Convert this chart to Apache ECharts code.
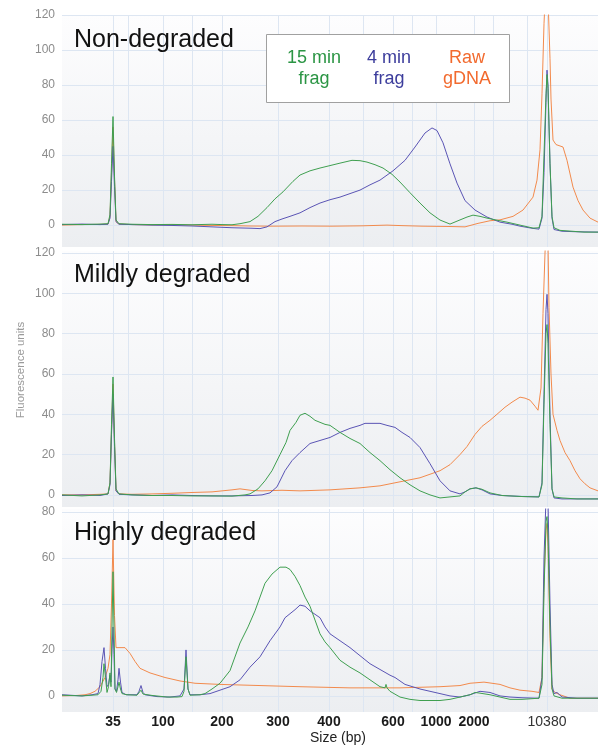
<!DOCTYPE html>
<html><head><meta charset="utf-8">
<script src="https://cdn.jsdelivr.net/npm/echarts@6/dist/echarts.min.js"></script>
<style>html,body{margin:0;padding:0;background:#fff}#c{width:598px;height:748px}</style>
</head><body><div id="c"></div>
<script>
// Ladder (size standard) positions on the migration axis
const ladderSizes = [35, 50, 100, 150, 200, 300, 400, 500, 600, 700, 1000, 2000, 3000, 7000, 10380];
const ladderPos   = [51, 66, 101, 130, 160, 216, 267, 301, 331, 350, 374, 412, 431, 465, 485];
const labeledSizes = [35, 100, 200, 300, 400, 600, 1000, 2000, 10380];
const panelTitles = ['Non-degraded', 'Mildly degraded', 'Highly degraded'];
const legendLines = [['15 min', 'frag'], ['4 min', 'frag'], ['Raw', 'gDNA']];
const seriesNames = ['15 min frag', '4 min frag', 'Raw gDNA'];
const yTicks12 = [0, 20, 40, 60, 80, 100, 120];
const yTicks8 = [0, 20, 40, 60, 80];

// Panel 1: Non-degraded  [migration position, fluorescence]
const ndGreen = [[0,0.5],[20,0.3],[38,0.6],[46,0.8],[48,6],[49.5,35],[51,62],[52.5,28],[54,3],[57,0.8],[70,0.5],[90,0.3],[110,0.4],[130,0.2],[150,0.5],[160,0.3],[170,0.2],[178,0.8],[188,2],[196,5],[205,10],[213,15],[221,19],[231,25],[238,28.6],[248,31],[258,32.6],[268,34],[278,35.4],[290,37],[298,36.8],[305,36],[313,34.5],[321,32.6],[330,29],[338,24.6],[348,18.5],[358,12.6],[368,7],[378,2.9],[388,0.6],[396,2.5],[405,4.6],[411,5.7],[418,5],[425,4],[435,2.8],[445,1.7],[458,0],[471,-1.7],[477,-1.5],[480,5],[482,40],[484,75],[485,86],[486,78],[488,35],[490,5],[492,-1.5],[498,-3],[510,-3.5],[522,-4],[536,-4]];
const ndBlue = [[0,0.3],[20,0.6],[38,0.3],[46,0.5],[48,4],[49.5,25],[51,45],[52.5,22],[54,2],[57,0.5],[70,0.3],[90,0],[110,-0.2],[130,-0.5],[150,-1],[170,-1.5],[190,-1.8],[198,-2],[205,-1],[213,2],[220,3.5],[228,5],[238,7],[248,10],[258,12.6],[268,14.5],[278,16],[288,18],[298,20],[308,23],[318,25.7],[331,31],[343,37],[353,44.6],[363,52.6],[370,55.5],[375,54],[381,47],[388,35],[395,24],[403,14],[413,8.6],[425,4.6],[438,1.7],[450,0.5],[458,-0.6],[470,-1.8],[477,-2.3],[480,4],[482,30],[484,70],[485,88.5],[486,80],[488,35],[490,4],[492,-2.5],[500,-3.5],[515,-3.8],[536,-4]];
const ndOrange = [[0,0],[20,0.3],[38,0.4],[46,0.6],[48,5],[49.5,30],[51,56],[52.5,26],[54,2],[57,0.6],[70,0.3],[90,0.1],[110,0.2],[130,0],[150,-0.2],[170,-0.3],[188,-0.5],[210,-0.6],[240,-0.5],[270,-0.6],[300,-0.4],[325,0],[340,-0.3],[360,-0.6],[388,-0.8],[403,-1],[416,1],[428,2.5],[438,3],[451,5],[461,8.6],[471,16],[475,25.7],[478,43],[480,75],[482,115],[484,140],[486,130],[488,95],[489,72],[491,48.6],[494,46],[501,44.6],[505,37],[511,21.7],[516,14],[521,8.6],[528,4],[536,1.7]];

// Panel 2: Mildly degraded
const mdGreen = [[0,0],[20,-0.5],[38,0],[46,0.5],[48,6],[49.5,35],[51,58.5],[52.5,28],[54,3],[57,0.5],[70,0],[90,-0.3],[110,-0.3],[130,-0.5],[150,-0.5],[170,-0.6],[183,0],[188,0.5],[196,3],[203,7],[210,12],[218,20],[224,26],[228,32],[234,36],[238,39.5],[243,40.5],[248,39],[253,37],[258,36],[263,35],[268,34.5],[278,31],[288,28],[298,25.5],[308,21],[318,17],[328,12.5],[338,8.5],[348,5],[358,2],[368,0],[378,-1.5],[388,-1],[398,-0.5],[403,1.5],[408,3],[414,3.5],[420,2.8],[428,1],[440,-0.3],[448,-0.5],[460,-0.8],[477,-1],[480,5],[482,45],[484,80],[485,84.5],[486,75],[488,35],[490,3],[492,-1],[500,-1.5],[515,-2],[536,-2]];
const mdBlue = [[0,-0.3],[20,0],[38,-0.3],[46,0.5],[48,5],[49.5,30],[51,50],[52.5,24],[54,2],[57,0.3],[70,0],[90,-0.3],[110,0],[130,-0.3],[150,-0.5],[170,-0.5],[190,-0.3],[200,0],[208,1],[215,4],[223,12],[230,17],[238,21],[248,25.5],[258,27],[268,28.5],[278,31],[288,33],[298,34.5],[303,35.5],[313,35.5],[318,35.5],[325,34.5],[333,33.5],[340,31],[348,28.5],[358,23.5],[368,15.5],[378,7],[388,2],[398,0.5],[403,1.5],[408,3],[414,3.5],[420,2.5],[428,0.5],[440,-0.3],[448,-0.5],[460,-0.8],[477,-1],[480,6],[482,50],[484,92],[485,99.5],[486,90],[488,40],[490,3],[492,-1.5],[500,-2],[515,-2],[536,-2]];
const mdOrange = [[0,0],[20,0],[38,0.3],[46,0.5],[48,6],[49.5,32],[51,55],[52.5,26],[54,2],[57,0.5],[70,0.3],[90,0.5],[110,0.8],[130,1.2],[150,1.5],[170,2.5],[178,3],[190,2.2],[200,2],[220,2.3],[238,2],[268,2.5],[298,3.5],[318,4.5],[328,5.5],[343,7],[358,8.5],[378,12],[388,15],[398,20],[405,24],[413,30],[420,34],[428,37],[435,40],[443,43.5],[450,46],[458,48.5],[463,48],[468,47],[473,44],[476,42],[479,53],[481,90],[483,120],[484,130],[486,125],[487,93],[489,60],[491,40],[495,32],[498,27],[503,21],[508,17],[513,12],[518,8],[523,5.5],[528,3.5],[536,2]];

// Panel 3: Highly degraded
const hdGreen = [[0,0.3],[20,0],[30,0.3],[36,0.5],[39,2],[41,8],[42,14],[43.5,8],[45,1.5],[46.5,4],[48,10],[49,4],[50,30],[51,54],[52,30],[53,3],[54.5,1.5],[56,4],[57,6],[58.5,3],[60,1],[65,0.5],[75,0.3],[77,1],[79,2.5],[81,0.8],[90,0.2],[105,-0.5],[115,-0.5],[120,-0.3],[122,2],[124,17],[126,3],[128,0.3],[138,0.5],[143,1],[150,3],[158,5.5],[168,11],[178,23],[186,30],[193,37],[198,43],[203,49],[210,53],[218,56],[224,56],[228,55],[233,52],[238,48],[243,43],[248,39],[253,33],[258,27],[263,23.5],[268,21],[278,15.5],[288,12.5],[298,10],[308,7],[318,4],[323,3.5],[324,5],[325,3.5],[328,2],[338,-0.5],[348,-1.5],[358,-2],[378,-2],[388,-1.5],[398,-0.5],[408,0.5],[413,1.5],[418,1.2],[428,0.5],[438,-0.5],[448,-1.5],[460,-1.5],[477,-1],[480,5],[482,45],[484,76],[485,78],[486,70],[488,30],[490,3],[492,0],[500,-1],[515,-1],[536,-1]];
const hdBlue = [[0,0.5],[20,0],[30,0.5],[36,1],[38,5],[40,15],[42,21],[43.5,12],[45,4],[46.5,5],[48,9],[49,6],[50,20],[51,30],[52,18],[53,3],[54.5,2],[56,7],[57,12],[58.5,6],[60,1.5],[64,0.5],[75,0.5],[77,2],[79,4.5],[81,1.5],[83,0.5],[95,-0.3],[108,-0.5],[118,0],[122,3],[124,20],[126,3],[128,0.5],[138,0.5],[148,1],[158,2.5],[168,4],[178,7],[188,12.5],[198,17],[208,24],[218,30],[223,34],[233,37.5],[238,39.5],[243,39],[248,37],[258,34],[263,30],[268,27],[278,24],[288,21],[298,17.5],[308,14],[318,11.5],[328,9],[333,8],[343,5],[358,3],[368,2],[378,1],[388,0],[398,-0.5],[408,0.5],[418,2],[428,1.5],[438,0],[448,-0.5],[460,-0.8],[477,-1],[480,8],[482,60],[484,86],[485,88],[486,85],[488,40],[490,5],[492,1],[495,1.5],[500,-0.5],[515,-1],[536,-1]];
const hdOrange = [[0,0],[15,0.2],[23,0.5],[28,1],[33,2],[38,4],[43,8],[46,12],[48,18],[49.5,40],[51,68],[52.5,35],[54,21],[58,21],[63,21],[68,18.5],[73,15],[78,12],[88,10],[103,8],[118,6.5],[133,5.5],[158,5],[198,4.5],[238,4],[288,3.5],[338,3.5],[378,4],[398,4.5],[408,5.5],[422,6],[430,5.5],[438,5],[448,3.5],[458,2.5],[470,2],[477,1.5],[480,8],[482,50],[484,72],[485,75],[486,65],[488,25],[490,3],[493,1.5],[498,0.5],[508,-1],[520,-1],[536,-1]];

const panelData = [
  [ndGreen, ndBlue, ndOrange],
  [mdGreen, mdBlue, mdOrange],
  [hdGreen, hdBlue, hdOrange]
];

const lineColors = ['#3f9f50', '#5a54b4', '#f28a4c'];
const textColors = ['#2b9544', '#3c3d9c', '#f26a2e'];
const FONT = '"Liberation Sans", Arial, Helvetica, sans-serif';

const gridBoxes = [
  {top: 15, height: 232, min: -12.5, max: 120, ticks: yTicks12},
  {top: 251, height: 256, min: -6, max: 121, ticks: yTicks12},
  {top: 509, height: 203, min: -7, max: 81.3, ticks: yTicks8}
];

const bg = {type: 'linear', x: 0, y: 0, x2: 0, y2: 1,
  colorStops: [{offset: 0, color: '#fdfdfe'}, {offset: 1, color: '#eceef1'}]};

const grids = gridBoxes.map(g => ({left: 62, right: 0, top: g.top, height: g.height,
  show: true, backgroundColor: bg, borderWidth: 0}));

const gridLineStyle = {color: '#dde6f2', width: 1};

const xAxes = gridBoxes.map((g, i) => ({
  type: 'value', gridIndex: i, min: 0, max: 536,
  axisLine: {show: false},
  axisTick: {show: false, customValues: ladderPos},
  splitLine: {show: true, lineStyle: gridLineStyle},
  axisLabel: {
    show: i === 2,
    customValues: labeledSizes.map(s => ladderPos[ladderSizes.indexOf(s)]),
    margin: 3,
    fontFamily: FONT, fontSize: 14, fontWeight: 'bold', color: '#1a1a1a',
    formatter: v => {
      const s = ladderSizes[ladderPos.indexOf(v)];
      return s === 10380 ? '{r|' + s + '}' : String(s);
    },
    rich: {r: {fontFamily: FONT, fontSize: 14, fontWeight: 'normal', color: '#333'}}
  }
}));

const yAxes = gridBoxes.map((g, i) => ({
  type: 'value', gridIndex: i, min: g.min, max: g.max,
  axisLine: {show: false},
  axisTick: {show: false, customValues: g.ticks},
  splitLine: {show: true, lineStyle: gridLineStyle},
  axisLabel: {customValues: g.ticks, margin: 7, fontFamily: FONT, fontSize: 12, color: '#8c8c8c'}
}));

const series = [];
panelData.forEach((traces, p) => {
  [2, 1, 0].forEach(k => {
    series.push({
      name: seriesNames[k], type: 'line', xAxisIndex: p, yAxisIndex: p,
      data: traces[k], showSymbol: false, symbol: 'none', clip: true,
      lineStyle: {color: lineColors[k], width: 1}, itemStyle: {color: lineColors[k]},
      animation: false, z: 3 + (2 - k)
    });
  });
});

const titleY = [40.5, 275.5, 533.5];
const graphics = [];
panelTitles.forEach((t, i) => graphics.push({
  type: 'text', left: null, z: 20,
  style: {text: t, x: 74, y: titleY[i], font: '25px ' + FONT, fill: '#111',
    textAlign: 'left', textVerticalAlign: 'middle'}
}));
graphics.push({type: 'rect', z: 20, shape: {x: 266.5, y: 34.5, width: 243, height: 68},
  style: {fill: '#fff', stroke: '#a0a0a0', lineWidth: 1}});
const legendX = [314, 389, 467];
legendLines.forEach((lines, k) => {
  lines.forEach((ln, j) => graphics.push({
    type: 'text', z: 21,
    style: {text: ln, x: legendX[k], y: 58 + j * 21, font: '18px ' + FONT, fill: textColors[k],
      textAlign: 'center', textVerticalAlign: 'middle'}
  }));
});
graphics.push({type: 'text', z: 20,
  style: {text: 'Size (bp)', x: 338, y: 738, font: '14px ' + FONT, fill: '#222',
    textAlign: 'center', textVerticalAlign: 'middle'}});
graphics.push({type: 'text', z: 20, x: 21, y: 370, rotation: Math.PI / 2,
  style: {text: 'Fluorescence units', x: 0, y: 0, font: '11.5px ' + FONT, fill: '#9a9a9a',
    textAlign: 'center', textVerticalAlign: 'middle'}});

const chart = echarts.init(document.getElementById('c'), null, {renderer: 'canvas'});
chart.setOption({
  animation: false,
  backgroundColor: '#fff',
  grid: grids, xAxis: xAxes, yAxis: yAxes, series: series,
  graphic: graphics
});
</script></body></html>
